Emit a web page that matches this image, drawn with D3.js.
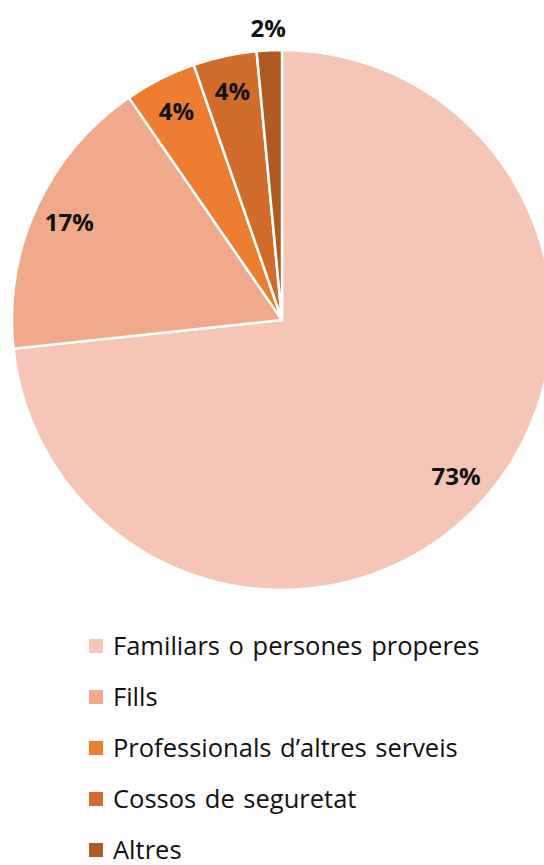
<!DOCTYPE html>
<html>
<head>
<meta charset="utf-8">
<script src="https://cdn.jsdelivr.net/npm/d3@7/dist/d3.min.js"></script>
<style>
  body { margin: 0; background: #fff; }
  text { font-family: "Open Sans", Lato, sans-serif; }
</style>
</head>
<body>
<div id="chart"></div>
<script>
const categories = ["Familiars o persones properes", "Fills", "Professionals d\u2019altres serveis", "Cossos de seguretat", "Altres"];
const values = [73.3, 17.1, 4.3, 3.8, 1.5];
const labels = ["73%", "17%", "4%", "4%", "2%"];
const colors = ["#F5C6B6", "#F0A98A", "#ED7D31", "#D26C2B", "#AE5A21"];

const w = 544, h = 865;
const cx = 282, cy = 320, r = 270;

const svg = d3.select('#chart').append('svg')
  .attr('width', w).attr('height', h);

const pie = d3.pie().sort(null).value(d => d)(values);
const arc = d3.arc().innerRadius(0).outerRadius(r);
const labelArc = d3.arc().innerRadius(234).outerRadius(234);
const outArc = d3.arc().innerRadius(292).outerRadius(292);

const g = svg.append('g').attr('transform', `translate(${cx},${cy})`);

g.selectAll('path').data(pie).join('path')
  .attr('d', arc)
  .attr('fill', (d, i) => colors[i])
  .attr('stroke', '#fff')
  .attr('stroke-width', 2.5)
  .attr('stroke-linejoin', 'round');

g.selectAll('text.lbl').data(pie).join('text')
  .attr('class', 'lbl')
  .attr('transform', (d, i) => `translate(${(i === 4 ? outArc : labelArc).centroid(d)})`)
  .attr('text-anchor', 'middle')
  .attr('dy', '0.35em')
  .attr('font-size', 24)
  .attr('font-weight', 'bold')
  .attr('fill', '#111')
  .text((d, i) => labels[i]);

const legend = svg.append('g').attr('transform', 'translate(89,646)');
const row = legend.selectAll('g').data(categories).join('g')
  .attr('transform', (d, i) => `translate(0,${i * 51})`);
row.append('rect')
  .attr('x', 0).attr('y', -7).attr('width', 14).attr('height', 14)
  .attr('fill', (d, i) => colors[i]);
row.append('text')
  .attr('x', 24).attr('dy', '0.35em')
  .attr('font-size', 25.5)
  .attr('word-spacing', 2)
  .attr('fill', '#111')
  .text(d => d);
</script>
</body>
</html>
